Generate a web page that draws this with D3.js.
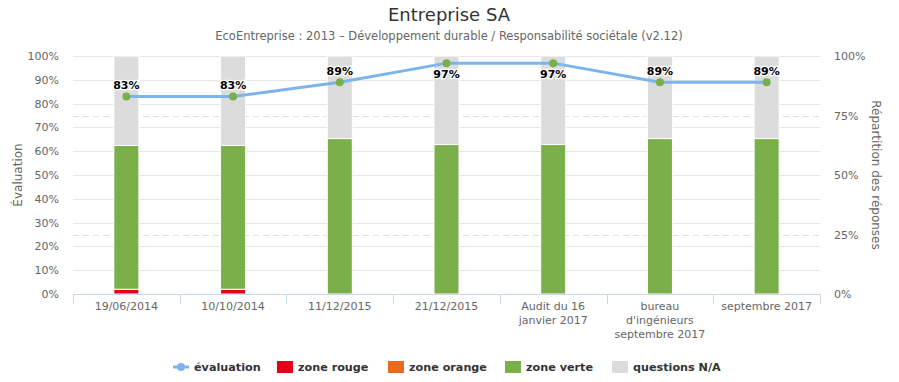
<!DOCTYPE html>
<html><head><meta charset="utf-8">
<script src="https://cdn.jsdelivr.net/npm/d3@7/dist/d3.min.js"></script>
<style>body{margin:0;background:#fff}svg{font-family:"DejaVu Sans",sans-serif}</style>
</head><body><svg id="c" width="899" height="382"></svg>
<script>
const categories = ["19/06/2014","10/10/2014","11/12/2015","21/12/2015","Audit du 16\njanvier 2017","bureau\nd'ingénieurs\nseptembre 2017","septembre 2017"];
const evaluation = [83,83,89,97,97,89,89];
const zoneRouge = [2,2,0,0,0,0,0];
const zoneOrange = [0,0,0,0,0,0,0];
const zoneVerte = [60.4,60.4,65.3,62.8,62.8,65.3,65.3];
const questionsNA = categories.map((c,i)=>100-zoneRouge[i]-zoneOrange[i]-zoneVerte[i]);
const leftTicks = [0,10,20,30,40,50,60,70,80,90,100];
const rightTicks = [0,25,50,75,100];
const seriesNames = ["zone rouge","zone orange","zone verte","questions N/A"];
const colors = {"évaluation":"#7cb5ec","zone rouge":"#e2001a","zone orange":"#ea6a1e","zone verte":"#7aaf4a","questions N/A":"#dcdcdc"};

const svg = d3.select("#c");
const L=73,R=820,T=56,B=294;
const x = d3.scaleBand().domain(categories).range([L,R]);
const yL = d3.scaleLinear().domain([0,100]).range([B,T]);
const yR = d3.scaleLinear().domain([0,100]).range([B,T]);

// title
svg.append("text").attr("x",449).attr("y",21).attr("text-anchor","middle").attr("fill","#333").attr("font-size",18).text("Entreprise SA");
svg.append("text").attr("x",449).attr("y",40).attr("text-anchor","middle").attr("fill","#666").attr("font-size",11.5).text("EcoEntreprise : 2013 – Développement durable / Responsabilité sociétale (v2.12)");

// gridlines
svg.append("g").selectAll("line").data(leftTicks).join("line")
 .attr("x1",L).attr("x2",R).attr("y1",d=>Math.round(yL(d))+0.5).attr("y2",d=>Math.round(yL(d))+0.5)
 .attr("stroke","#e6e6e6");
svg.append("g").selectAll("line").data(rightTicks.filter(d=>d%50!==0)).join("line")
 .attr("x1",L).attr("x2",R).attr("y1",d=>Math.round(yR(d))+0.5).attr("y2",d=>Math.round(yR(d))+0.5)
 .attr("stroke","#e0e0e0").attr("stroke-dasharray","6,4");

// axis labels
svg.append("g").selectAll("text").data(leftTicks).join("text")
 .attr("x",59).attr("y",d=>yL(d)+4).attr("text-anchor","end").attr("fill","#666").attr("font-size",11).text(d=>d+"%");
svg.append("g").selectAll("text").data(rightTicks).join("text")
 .attr("x",834).attr("y",d=>yR(d)+4).attr("text-anchor","start").attr("fill","#666").attr("font-size",11).text(d=>d+"%");
svg.append("text").attr("transform","translate(22,175) rotate(-90)").attr("text-anchor","middle").attr("fill","#666").attr("font-size",12).text("Évaluation");
svg.append("text").attr("transform","translate(872,175) rotate(90)").attr("text-anchor","middle").attr("fill","#666").attr("font-size",12).text("Répartition des réponses");

// stacked bars
const rows = categories.map((c,i)=>({cat:c,"zone rouge":zoneRouge[i],"zone orange":zoneOrange[i],"zone verte":zoneVerte[i],"questions N/A":questionsNA[i]}));
const stack = d3.stack().keys(seriesNames)(rows);
const bw = 25;
svg.append("g").selectAll("g").data(stack).join("g").attr("fill",d=>colors[d.key])
 .selectAll("rect").data(d=>d.filter(p=>p[1]-p[0]>0)).join("rect")
 .attr("x",d=>x(d.data.cat)+x.bandwidth()/2-bw/2).attr("width",bw)
 .attr("y",d=>yR(d[1])).attr("height",d=>yR(d[0])-yR(d[1]))
 .attr("stroke","#fff").attr("stroke-width",1);

// x axis
const xa = svg.append("g");
xa.append("line").attr("x1",L).attr("x2",R).attr("y1",B+0.5).attr("y2",B+0.5).attr("stroke","#ccd6eb");
const bounds = categories.map(c=>x(c)).concat([R]);
xa.selectAll("line.t").data(bounds).join("line").attr("class","t")
 .attr("x1",d=>Math.round(d)+0.5).attr("x2",d=>Math.round(d)+0.5).attr("y1",B).attr("y2",B+10).attr("stroke","#ccd6eb");
categories.forEach(c=>{
  const t = xa.append("text").attr("text-anchor","middle").attr("fill","#666").attr("font-size",11);
  c.split("\n").forEach((ln,k)=>t.append("tspan").attr("x",x(c)+x.bandwidth()/2).attr("y",B+16+k*14).text(ln));
});

// line
const line = d3.line().x((d,i)=>x(categories[i])+x.bandwidth()/2).y(d=>yL(d));
svg.append("path").datum(evaluation).attr("d",line).attr("fill","none").attr("stroke",colors["évaluation"]).attr("stroke-width",3);
svg.append("g").selectAll("circle").data(evaluation).join("circle")
 .attr("cx",(d,i)=>x(categories[i])+x.bandwidth()/2).attr("cy",d=>yL(d)).attr("r",4).attr("fill","#7aaf4a");
svg.append("g").selectAll("text").data(evaluation).join("text")
 .attr("x",(d,i)=>x(categories[i])+x.bandwidth()/2)
 .attr("y",d=>(yL(d)-16 < T) ? yL(d)+15 : yL(d)-7)
 .attr("text-anchor","middle").attr("font-size",11).attr("font-weight","bold").attr("fill","#000")
 .attr("stroke","#fff").attr("stroke-width",2.5).attr("paint-order","stroke").text(d=>d+"%");

// legend
const leg = svg.append("g").attr("font-size",11.2).attr("font-weight","bold").attr("fill","#333");
const ly = 367;
leg.append("line").attr("x1",173).attr("x2",189).attr("y1",ly).attr("y2",ly).attr("stroke",colors["évaluation"]).attr("stroke-width",3);
leg.append("circle").attr("cx",181).attr("cy",ly).attr("r",4).attr("fill",colors["évaluation"]);
leg.append("text").attr("x",194).attr("y",ly+4).text("évaluation");
const legX = [277,388,505,612];
seriesNames.forEach((n,i)=>{
  leg.append("rect").attr("x",legX[i]).attr("y",ly-6).attr("width",16).attr("height",12).attr("fill",colors[n]);
  leg.append("text").attr("x",legX[i]+21).attr("y",ly+4).text(n);
});
</script></body></html>
